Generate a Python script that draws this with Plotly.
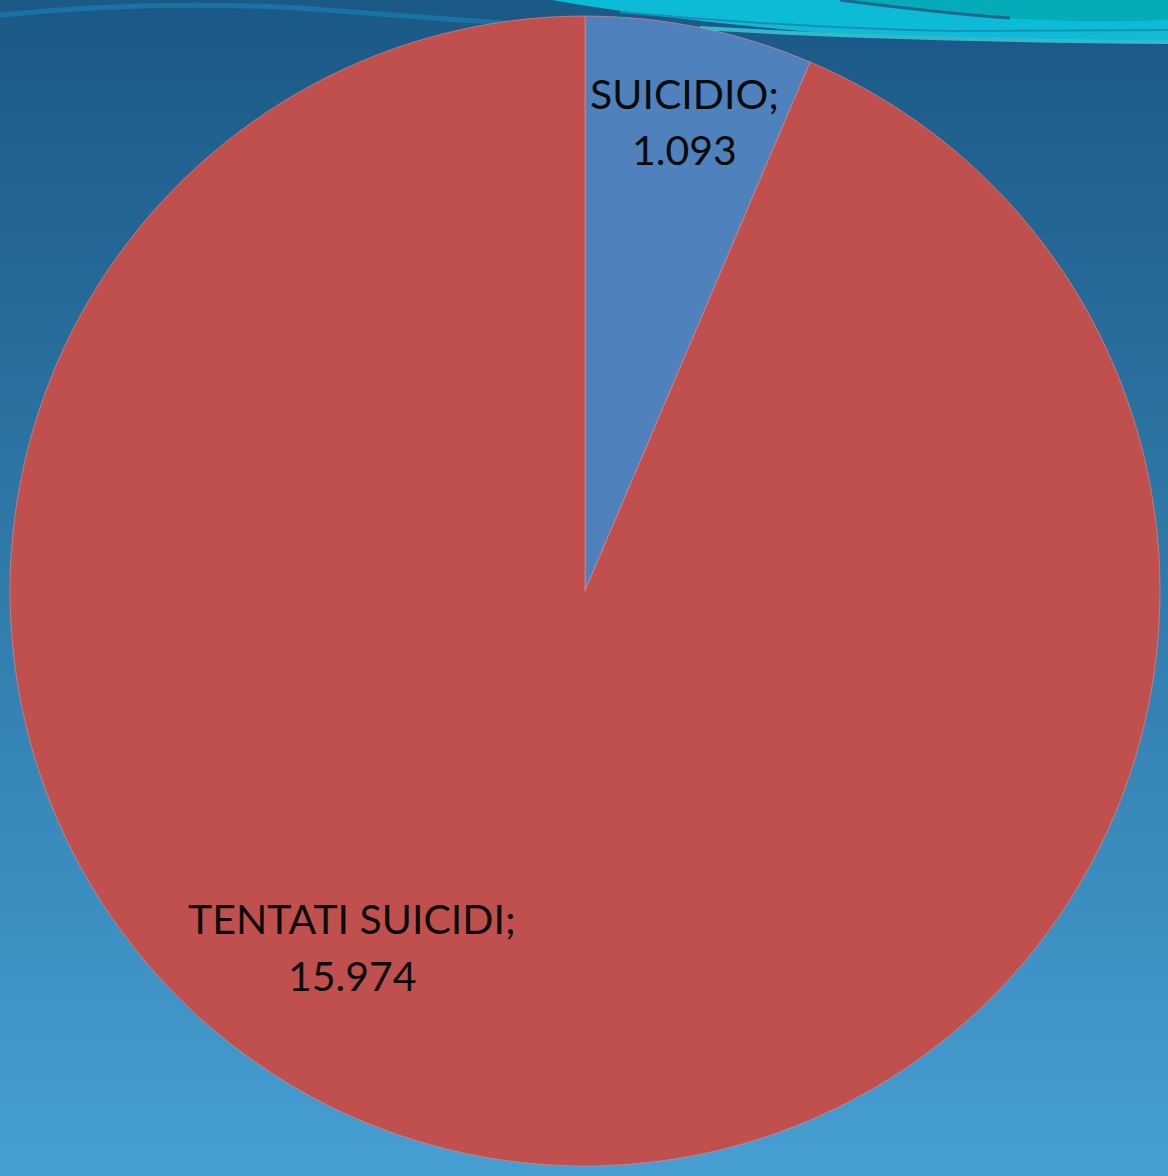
import plotly.graph_objects as go

# ---- data ----
labels = ["SUICIDIO", "TENTATI SUICIDI"]
values = [1093, 15974]
colors = ["#4f81bd", "#c0504d"]

W, H = 1168, 1176


def fmt_it(v):
    return f"{v:,}".replace(",", ".")


def P(x, y):
    return f"{x / W:.5f},{1 - y / H:.5f}"


shapes = []
# background vertical gradient (bands)
top_c = (27, 89, 134)
bot_c = (70, 158, 210)
N = 120
for i in range(N):
    t = i / (N - 1)
    c = tuple(int(round(top_c[k] + (bot_c[k] - top_c[k]) * t)) for k in range(3))
    shapes.append(dict(type="rect", xref="paper", yref="paper",
                       x0=0, x1=1, y0=1 - (i + 1) / N - 0.001, y1=1 - i / N,
                       fillcolor=f"rgb{c}", line=dict(width=0), layer="below"))

# decorative top wave
shapes.append(dict(type="path", xref="paper", yref="paper", layer="below",
                   path=f"M {P(0,15)} Q {P(150,0)} {P(300,8)} Q {P(430,18)} {P(520,24)}",
                   line=dict(color="#1a74a3", width=5)))
shapes.append(dict(type="path", xref="paper", yref="paper", layer="below",
                   path=f"M {P(552,0)} Q {P(640,16)} {P(800,31)} Q {P(950,42)} {P(1168,42)} L {P(1168,0)} Z",
                   fillcolor="#0cbcd7", line=dict(width=0)))
shapes.append(dict(type="path", xref="paper", yref="paper", layer="below",
                   path=f"M {P(700,28)} Q {P(900,40)} {P(1168,42)}",
                   line=dict(color="#35b8cc", width=4)))
shapes.append(dict(type="path", xref="paper", yref="paper", layer="below",
                   path=f"M {P(620,12)} Q {P(780,27)} {P(950,31)} L {P(1168,30)}",
                   line=dict(color="#1d8db3", width=2)))
shapes.append(dict(type="path", xref="paper", yref="paper", layer="below",
                   path=f"M {P(840,0)} Q {P(950,14)} {P(1020,19)} Q {P(1100,23)} {P(1168,20)} L {P(1168,0)} Z",
                   fillcolor="#04abb9", line=dict(width=0)))
shapes.append(dict(type="path", xref="paper", yref="paper", layer="below",
                   path=f"M {P(840,0)} Q {P(940,13)} {P(1010,18)}",
                   line=dict(color="#1e6890", width=3)))

fig = go.Figure(go.Pie(
    labels=labels, values=values, sort=False, direction="clockwise", rotation=0,
    marker=dict(colors=colors, line=dict(color="rgba(230,140,140,0.6)", width=1)),
    textinfo="none", hoverinfo="label+value", showlegend=False,
    domain=dict(x=[10 / W, 1160 / W], y=[1 - 1166 / H, 1 - 16 / H]),
))

# label centres (name line, value line)
label_pos = [(684, 93, 150), (352, 918, 975)]
annotations = []
font = dict(family="Lato, Carlito, Calibri, sans-serif", size=41, color="#0a0a0a")
for lab, val, (px, py1, py2) in zip(labels, values, label_pos):
    for txt, py in ((f"{lab};", py1), (fmt_it(val), py2)):
        annotations.append(dict(
            x=px / W, y=1 - py / H, xref="paper", yref="paper",
            xanchor="center", yanchor="middle", showarrow=False,
            text=txt, font=font,
        ))

fig.update_layout(
    width=W, height=H, margin=dict(l=0, r=0, t=0, b=0),
    paper_bgcolor="#2a6fa0", plot_bgcolor="rgba(0,0,0,0)",
    shapes=shapes, annotations=annotations,
)

fig.write_html("out.html", config={"displayModeBar": False},
               post_script="document.body.style.margin='0';document.body.style.overflow='hidden';")
